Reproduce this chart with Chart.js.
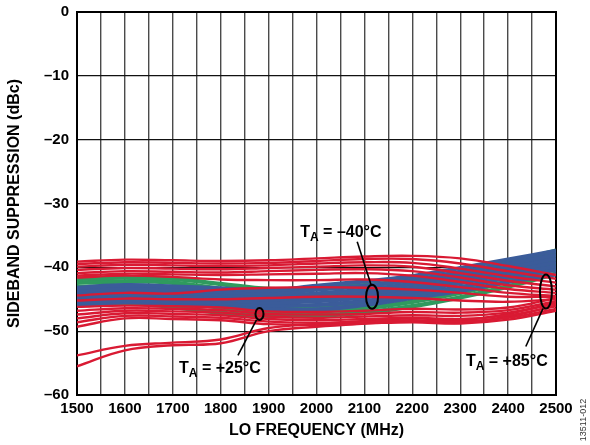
<!DOCTYPE html>
<html>
<head>
<meta charset="utf-8">
<script src="https://cdn.jsdelivr.net/npm/chart.js@4/dist/chart.umd.min.js"></script>
<style>
  html, body { margin: 0; padding: 0; background: #fff; }
</style>
</head>
<body>
<canvas id="chart" width="590" height="445"></canvas>
<script>
// LO frequency points (MHz)
const freq = [1500, 1600, 1700, 1800, 1900, 2000, 2100, 2200, 2300, 2400, 2500];

// y axis ticks (dBc)
const yTicks = [0, -10, -20, -30, -40, -50, -60];

// T_A = +25°C traces (green)
const green = [
  [-41.8, -41.6, -41.8, -42.6, -43.4, -43.3, -42.8, -42.0, -40.8, -39.3, -37.4],
  [-42.4, -42.2, -42.4, -43.4, -44.3, -44.2, -43.7, -42.9, -41.6, -40.0, -38.0],
  [-43.1, -42.9, -43.2, -44.4, -45.3, -45.1, -44.6, -43.7, -42.4, -40.8, -38.7],
  [-44.0, -43.8, -44.2, -45.4, -46.2, -46.0, -45.5, -44.6, -43.2, -41.5, -39.4],
  [-44.9, -44.7, -45.2, -46.3, -47.0, -46.9, -46.4, -45.4, -44.0, -42.2, -40.2],
  [-45.8, -45.6, -46.2, -47.1, -47.6, -47.5, -47.1, -46.1, -44.7, -43.0, -41.0]
];

// T_A = -40°C traces (blue)
const blue = [
  [-43.2, -42.8, -43.0, -43.3, -43.6, -42.9, -42.2, -41.4, -40.1, -38.8, -37.4],
  [-43.7, -43.3, -43.5, -43.8, -44.1, -43.5, -42.9, -42.0, -40.7, -39.4, -38.0],
  [-44.2, -43.8, -44.0, -44.3, -44.6, -44.1, -43.5, -42.6, -41.3, -40.0, -38.6],
  [-44.6, -44.2, -44.4, -44.7, -45.0, -44.7, -44.1, -43.2, -41.9, -40.5, -39.2],
  [-45.0, -44.6, -44.9, -45.1, -45.5, -45.3, -44.7, -43.7, -42.5, -41.0, -39.8],
  [-45.5, -45.1, -45.3, -45.6, -46.0, -45.9, -45.3, -44.2, -43.1, -41.6, -40.4],
  [-46.0, -45.5, -45.8, -46.0, -46.5, -46.6, -45.9, -44.8, -43.7, -42.3, -41.1]
];

// T_A = +85°C traces (red)
const red = [
  // upper group
  [-39.1, -38.8, -38.9, -39.0, -38.9, -38.6, -38.3, -38.2, -38.6, -39.8, -41.2],
  [-39.5, -39.2, -39.3, -39.4, -39.3, -39.0, -38.7, -38.7, -39.4, -40.6, -41.8],
  [-39.9, -39.6, -39.7, -39.8, -39.7, -39.4, -39.2, -39.3, -40.2, -41.4, -42.4],
  [-40.4, -40.1, -40.2, -40.3, -40.1, -39.9, -39.7, -39.9, -40.9, -42.1, -43.0],
  [-40.9, -40.6, -40.7, -40.8, -40.6, -40.4, -40.3, -40.6, -41.6, -42.8, -43.5],
  [-41.3, -41.0, -41.1, -41.2, -41.1, -41.0, -40.9, -41.3, -42.3, -43.4, -44.0],
  [-41.6, -41.3, -41.5, -41.9, -42.0, -42.0, -41.9, -42.3, -43.1, -44.0, -44.5],
  // through the blue band
  [-44.4, -44.0, -44.1, -43.5, -43.2, -43.1, -43.2, -43.5, -44.0, -44.6, -44.6],
  [-45.2, -44.9, -45.0, -45.0, -44.8, -44.6, -44.6, -44.8, -45.2, -45.4, -45.0],
  // lower group
  [-46.2, -46.0, -46.1, -46.3, -46.9, -47.0, -46.8, -46.5, -46.6, -46.3, -44.8],
  [-46.8, -46.4, -46.5, -46.7, -47.3, -47.4, -47.3, -47.0, -47.1, -46.7, -45.3],
  [-47.4, -46.8, -46.9, -47.1, -47.7, -47.9, -47.7, -47.5, -47.6, -47.1, -45.7],
  [-48.0, -47.2, -47.3, -47.5, -48.1, -48.3, -48.1, -47.9, -48.1, -47.5, -46.1],
  [-48.6, -47.6, -47.7, -47.9, -48.5, -48.7, -48.5, -48.3, -48.5, -47.9, -46.5],
  [-49.3, -48.0, -48.1, -48.3, -48.9, -49.0, -48.8, -48.6, -48.8, -48.2, -46.8],
  // two low outliers
  [-53.8, -52.3, -51.8, -51.3, -49.5, -48.9, -48.4, -48.0, -48.3, -47.3, -45.5],
  [-55.5, -53.0, -52.2, -51.9, -50.0, -49.3, -48.8, -48.4, -48.7, -47.7, -46.0]
];

// callouts: ellipse centre + leader end + label anchor, in data units
const callouts = [
  { temp: ' = \u201340\u00b0C', ex: 2116, ey: -44.6, rx: 6, ry: 12, lx: 2085, ly: -36.0, tx: 1966, ty: -35.2 },
  { temp: ' = +25\u00b0C', ex: 1881, ey: -47.3, rx: 4, ry: 6, lx: 1836, ly: -53.8, tx: 1713, ty: -56.5 },
  { temp: ' = +85\u00b0C', ex: 2479, ey: -43.8, rx: 6, ry: 17, lx: 2437, ly: -52.4, tx: 2312, ty: -55.5 }
];

const RED = '#d91a33';
const BLUE = '#3b5c9a';
const GREEN = '#2f9a5e';
const FONT = 'Liberation Sans, Arial, Helvetica, sans-serif';

function toPoints(arr) {
  return arr.map((v, i) => ({ x: freq[i], y: v }));
}

// higher order is drawn first (underneath)
function makeSets(group, color, width, order) {
  return group.map(arr => ({
    data: toPoints(arr),
    borderColor: color,
    borderWidth: width,
    pointRadius: 0,
    tension: 0.4,
    fill: false,
    order: order
  }));
}

const datasets = [].concat(
  makeSets(green, GREEN, 4.5, 3),
  makeSets(blue, BLUE, 4.2, 2),
  makeSets(red, RED, 2.4, 1)
);

// black frame round the plot area
const framePlugin = {
  id: 'frame',
  beforeDatasetsDraw(chart) {
    const a = chart.chartArea, ctx = chart.ctx;
    ctx.save();
    ctx.strokeStyle = '#000';
    ctx.lineWidth = 2;
    ctx.strokeRect(a.left, a.top, a.right - a.left, a.bottom - a.top);
    ctx.restore();
  }
};

// T_A labels, leader lines and ellipses
const calloutPlugin = {
  id: 'callouts',
  afterDatasetsDraw(chart) {
    const ctx = chart.ctx, xs = chart.scales.x, ys = chart.scales.y;
    ctx.save();
    callouts.forEach(c => {
      const cx = xs.getPixelForValue(c.ex), cy = ys.getPixelForValue(c.ey);
      ctx.strokeStyle = '#000';
      ctx.lineWidth = 2;
      ctx.beginPath();
      ctx.ellipse(cx, cy, c.rx, c.ry, 0, 0, Math.PI * 2);
      ctx.stroke();
      const lx = xs.getPixelForValue(c.lx), ly = ys.getPixelForValue(c.ly);
      const sy = ly < cy ? cy - c.ry : cy + c.ry;
      ctx.lineWidth = 1.6;
      ctx.beginPath();
      ctx.moveTo(cx - (ly < cy ? 1 : 3), sy);
      ctx.lineTo(lx, ly);
      ctx.stroke();

      let tx = xs.getPixelForValue(c.tx);
      const ty = ys.getPixelForValue(c.ty);
      ctx.fillStyle = '#000';
      ctx.textBaseline = 'alphabetic';
      ctx.font = 'bold 16px ' + FONT;
      ctx.fillText('T', tx, ty);
      tx += ctx.measureText('T').width;
      ctx.font = 'bold 12px ' + FONT;
      ctx.fillText('A', tx, ty + 4);
      tx += ctx.measureText('A').width;
      ctx.font = 'bold 16px ' + FONT;
      ctx.fillText(c.temp, tx, ty);
    });
    ctx.restore();
  }
};

// small figure id on the right edge
const idPlugin = {
  id: 'figId',
  afterDraw(chart) {
    const ctx = chart.ctx;
    ctx.save();
    ctx.translate(584, 420);
    ctx.rotate(-Math.PI / 2);
    ctx.font = '9px ' + FONT;
    ctx.fillStyle = '#333';
    ctx.textAlign = 'center';
    ctx.textBaseline = 'middle';
    ctx.fillText('13511-012', 0, 0);
    ctx.restore();
  }
};

new Chart(document.getElementById('chart'), {
  type: 'line',
  data: { datasets },
  plugins: [framePlugin, calloutPlugin, idPlugin],
  options: {
    responsive: false,
    animation: false,
    layout: { padding: { top: 12, right: 34, left: 0, bottom: 0 } },
    plugins: {
      legend: { display: false },
      tooltip: { enabled: false }
    },
    scales: {
      x: {
        type: 'linear',
        min: 1500,
        max: 2500,
        afterFit: s => { s.height = 50; s.paddingLeft = 0; s.paddingRight = 0; },
        ticks: {
          stepSize: 50,
          autoSkip: false,
          maxRotation: 0,
          padding: 5,
          color: '#000',
          font: { family: FONT, size: 15, weight: 'bold' },
          callback: v => (v % 100 === 0 ? String(v) : '')
        },
        grid: { color: '#4a4a4a', lineWidth: 1.4, drawTicks: false },
        border: { display: false },
        title: {
          display: true,
          text: 'LO FREQUENCY (MHz)',
          color: '#000',
          font: { family: FONT, size: 16, weight: 'bold' },
          padding: { top: 0, bottom: 5 }
        }
      },
      y: {
        min: -60,
        max: 0,
        afterFit: s => { s.width = 77; s.paddingTop = 0; s.paddingBottom = 0; },
        afterBuildTicks: s => { s.ticks = yTicks.map(v => ({ value: v })); },
        ticks: {
          padding: 8,
          color: '#000',
          font: { family: FONT, size: 15, weight: 'bold' },
          callback: v => (v === 0 ? '0' : '\u2013' + Math.abs(v))
        },
        grid: { color: '#111', lineWidth: 1.2, drawTicks: false },
        border: { display: false },
        title: {
          display: true,
          text: 'SIDEBAND SUPPRESSION (dBc)',
          color: '#000',
          font: { family: FONT, size: 16, weight: 'bold' },
          padding: { top: 5, bottom: 0 }
        }
      }
    }
  }
});
</script>
</body>
</html>
